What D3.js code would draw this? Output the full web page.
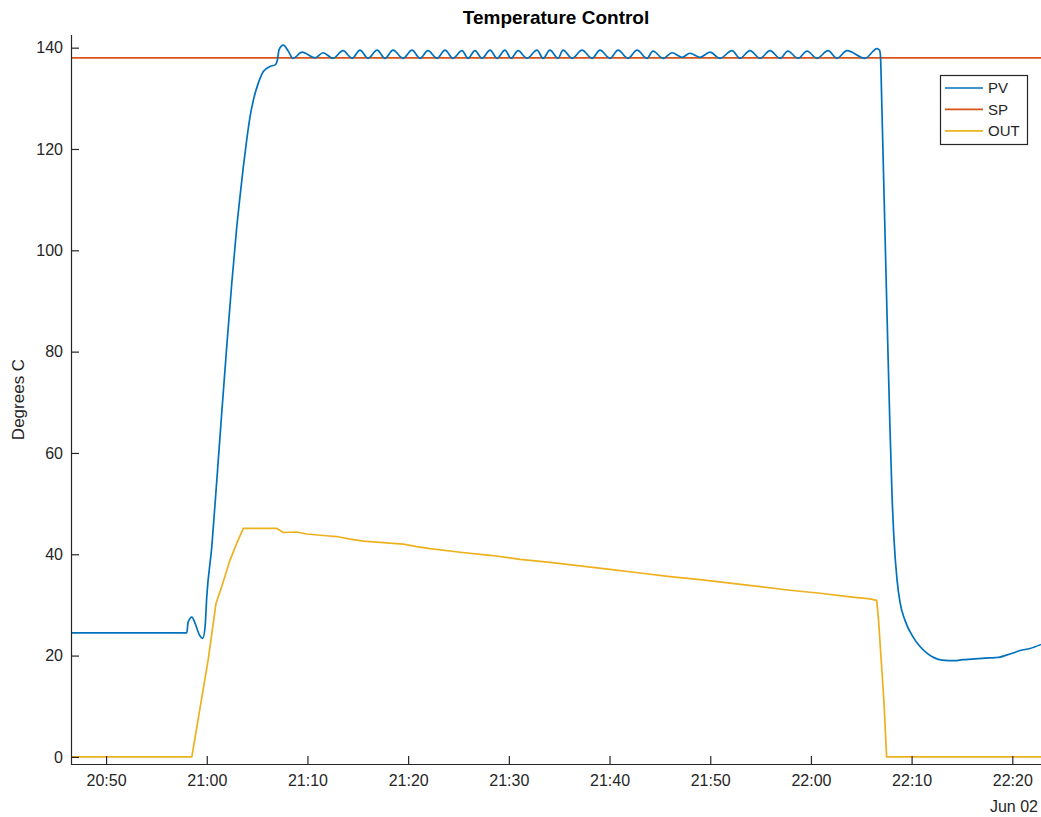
<!DOCTYPE html>
<html>
<head>
<meta charset="utf-8">
<script src="https://cdn.jsdelivr.net/npm/d3@7"></script>
<style>
  html, body { margin: 0; padding: 0; background: #ffffff; }
  svg { display: block; font-family: "Liberation Sans", Arial, Helvetica, sans-serif; }
</style>
</head>
<body>
<svg id="chart" width="1041" height="817"></svg>
<script>
// Process variable (temperature) samples, Jun 02
const pvSeries = [
  ["20:46:31", 24.5], ["20:58:01", 24.5], ["20:58:09", 26.6], ["20:58:31", 27.6],
  ["20:58:50", 26.4], ["20:59:16", 24.1], ["20:59:36", 23.4], ["20:59:50", 25.7],
  ["21:00:00", 31.6], ["21:00:30", 41.5], ["21:01:00", 54.7], ["21:01:29", 67.8],
  ["21:01:59", 81.0], ["21:02:29", 93.5], ["21:02:59", 104.7], ["21:03:18", 110.6],
  ["21:03:38", 116.5], ["21:03:58", 121.8], ["21:04:18", 126.4], ["21:04:38", 129.7],
  ["21:05:07", 133.0], ["21:05:37", 135.3], ["21:06:17", 136.3], ["21:06:47", 136.6],
  ["21:07:01", 137.6], ["21:07:11", 139.6], ["21:07:36", 140.5], ["21:08:06", 139.3],
  ["21:08:34", 137.9], ["21:09:28", 139.1], ["21:10:45", 138.0], ["21:11:33", 139.0],
  ["21:12:32", 137.9], ["21:13:32", 139.4], ["21:14:26", 137.9], ["21:15:13", 139.5],
  ["21:16:01", 137.9], ["21:16:55", 139.5], ["21:17:42", 137.9], ["21:18:30", 139.5],
  ["21:19:30", 137.9], ["21:20:23", 139.5], ["21:21:11", 137.9], ["21:21:58", 139.4],
  ["21:22:52", 137.9], ["21:23:40", 139.5], ["21:24:27", 137.9], ["21:25:21", 139.4],
  ["21:25:57", 137.9], ["21:26:38", 139.4], ["21:27:20", 137.9], ["21:28:08", 139.5],
  ["21:28:50", 137.9], ["21:29:37", 139.5], ["21:30:13", 137.9], ["21:30:55", 139.4],
  ["21:31:48", 137.9], ["21:32:48", 139.5], ["21:33:24", 137.9], ["21:34:05", 139.5],
  ["21:34:53", 137.9], ["21:35:23", 139.5], ["21:36:17", 137.9], ["21:37:16", 139.5],
  ["21:38:16", 137.9], ["21:39:03", 139.5], ["21:40:03", 137.9], ["21:40:51", 139.5],
  ["21:41:50", 137.9], ["21:42:44", 139.5], ["21:43:43", 137.9], ["21:44:19", 139.3],
  ["21:45:19", 137.9], ["21:46:12", 139.0], ["21:47:12", 138.1], ["21:47:59", 138.9],
  ["21:48:59", 138.1], ["21:49:59", 139.1], ["21:50:58", 137.9], ["21:52:10", 139.4],
  ["21:52:57", 137.9], ["21:53:57", 139.4], ["21:54:57", 137.9], ["21:55:56", 139.4],
  ["21:56:56", 137.9], ["21:57:43", 139.3], ["21:58:43", 137.9], ["21:59:37", 139.3],
  ["22:00:36", 137.9], ["22:01:42", 139.4], ["22:02:35", 137.9], ["22:03:35", 139.4],
  ["22:05:22", 137.9], ["22:06:34", 139.8], ["22:06:49", 139.5], ["22:06:54", 138.5],
  ["22:07:03", 128.0], ["22:07:15", 112.0], ["22:07:27", 96.0], ["22:07:39", 80.0],
  ["22:07:51", 65.0], ["22:08:03", 52.0], ["22:08:15", 43.0], ["22:08:33", 35.0],
  ["22:08:51", 30.5], ["22:09:20", 27.0], ["22:10:08", 23.7], ["22:10:50", 21.8],
  ["22:11:31", 20.5], ["22:12:13", 19.6], ["22:13:01", 19.1], ["22:14:18", 19.0],
  ["22:15:06", 19.2], ["22:16:00", 19.3], ["22:17:17", 19.5], ["22:18:17", 19.6],
  ["22:18:46", 19.7], ["22:19:16", 20.0], ["22:20:04", 20.5], ["22:20:46", 21.0],
  ["22:21:45", 21.4], ["22:22:51", 22.2]
];

// Setpoint
const spSeries = [["20:46:31", 138], ["22:22:51", 138]];

// Controller output
const outSeries = [
  ["20:46:31", 0], ["20:58:31", 0], ["21:00:10", 19.5], ["21:00:55", 30.3],
  ["21:01:29", 33.6], ["21:02:19", 38.9], ["21:02:59", 42.2], ["21:03:38", 45.1],
  ["21:06:57", 45.1], ["21:07:27", 44.5], ["21:07:36", 44.3], ["21:08:56", 44.4],
  ["21:09:56", 44.0], ["21:11:35", 43.7], ["21:12:55", 43.5], ["21:14:14", 43.0],
  ["21:15:33", 42.6], ["21:17:32", 42.3], ["21:19:31", 42.0], ["21:20:51", 41.5],
  ["21:22:10", 41.1], ["21:25:10", 40.4], ["21:28:08", 39.8], ["21:31:07", 39.0],
  ["21:34:05", 38.4], ["21:37:04", 37.7], ["21:40:03", 37.0], ["21:43:02", 36.3],
  ["21:46:00", 35.6], ["21:48:59", 35.0], ["21:51:58", 34.3], ["21:54:57", 33.6],
  ["21:57:55", 32.9], ["22:00:54", 32.3], ["22:03:53", 31.6], ["22:05:52", 31.2],
  ["22:06:32", 30.9], ["22:06:43", 27.0], ["22:06:57", 20.0], ["22:07:15", 11.0],
  ["22:07:31", 0], ["22:22:51", 0]
];

const seriesNames = ["PV", "SP", "OUT"];
const seriesColors = ["#0072BD", "#D95319", "#EDB120"];
const yTicks = [0, 20, 40, 60, 80, 100, 120, 140];
const xTickTimes = ["20:50", "21:00", "21:10", "21:20", "21:30", "21:40", "21:50", "22:00", "22:10", "22:20"];
const timeRange = ["20:46:31", "22:22:51"];
const yRange = [-1.4, 142.5];
const dayLabel = "Jun 02";

const parseSec = d3.timeParse("%Y-%m-%d %H:%M:%S");
const parseMin = d3.timeParse("%Y-%m-%d %H:%M");
const day = "2023-06-02 ";
const toPoints = s => s.map(([t, v]) => ({ t: parseSec(day + t), v }));

const svg = d3.select("#chart");
const plot = { left: 71, right: 1041, top: 35, bottom: 764 };
const ink = "#262626";

const x = d3.scaleTime()
  .domain(timeRange.map(t => parseSec(day + t)))
  .range([plot.left, plot.right]);
const y = d3.scaleLinear().domain(yRange).range([plot.bottom, plot.top]);

// series lines
const line = d3.line().x(d => x(d.t)).y(d => y(d.v));
const series = [
  { pts: toPoints(pvSeries), curve: d3.curveMonotoneX },
  { pts: toPoints(spSeries), curve: d3.curveLinear },
  { pts: toPoints(outSeries), curve: d3.curveLinear }
];
svg.append("clipPath").attr("id", "plot-clip").append("rect")
  .attr("x", plot.left).attr("y", plot.top)
  .attr("width", plot.right - plot.left).attr("height", plot.bottom - plot.top);

const lines = svg.append("g").attr("clip-path", "url(#plot-clip)");
// draw OUT first, then SP, then PV on top
[2, 1, 0].forEach(i => {
  lines.append("path")
    .datum(series[i].pts)
    .attr("fill", "none")
    .attr("stroke", seriesColors[i])
    .attr("stroke-width", 1.7)
    .attr("stroke-linejoin", "round")
    .attr("d", line.curve(series[i].curve));
});

// axes with inward ticks
const fmt = d3.timeFormat("%H:%M");
const xAxis = d3.axisBottom(x)
  .tickValues(xTickTimes.map(t => parseMin(day + t)))
  .tickFormat(fmt)
  .tickSize(-8).tickPadding(11);
const yAxis = d3.axisLeft(y)
  .tickValues(yTicks)
  .tickSize(-8).tickPadding(8);

const gx = svg.append("g").attr("transform", `translate(0,${plot.bottom})`).call(xAxis);
const gy = svg.append("g").attr("transform", `translate(${plot.left},0)`).call(yAxis);
[gx, gy].forEach(g => {
  g.select(".domain").attr("stroke", ink).attr("stroke-width", 1.2);
  g.selectAll(".tick line").attr("stroke", ink).attr("stroke-width", 1.2);
  g.selectAll(".tick text").attr("fill", ink).attr("font-size", 16)
    .attr("font-family", "'Liberation Sans', Arial, sans-serif");
});
gx.select(".domain").attr("d", `M${plot.left},0.5H${plot.right}`);
gy.select(".domain").attr("d", `M0.5,${plot.bottom}V${plot.top}`);

// secondary date label
svg.append("text")
  .attr("x", 1038).attr("y", 812)
  .attr("text-anchor", "end")
  .attr("fill", ink).attr("font-size", 16)
  .text(dayLabel);

// y label
svg.append("text")
  .attr("transform", `translate(24,${(plot.top + plot.bottom) / 2}) rotate(-90)`)
  .attr("text-anchor", "middle")
  .attr("fill", ink).attr("font-size", 17)
  .text("Degrees C");

// title
svg.append("text")
  .attr("x", (plot.left + plot.right) / 2).attr("y", 24)
  .attr("text-anchor", "middle")
  .attr("fill", "#000").attr("font-size", 19).attr("font-weight", "bold")
  .text("Temperature Control");

// legend
const lg = svg.append("g").attr("transform", "translate(940,75)");
lg.append("rect")
  .attr("x", 0.5).attr("y", 0.5).attr("width", 87).attr("height", 69)
  .attr("fill", "#fff").attr("stroke", ink).attr("stroke-width", 1.2);
seriesNames.forEach((name, i) => {
  const cy = 13 + i * 21.4;
  lg.append("line")
    .attr("x1", 5).attr("x2", 43).attr("y1", cy).attr("y2", cy)
    .attr("stroke", seriesColors[i]).attr("stroke-width", 1.7);
  lg.append("text")
    .attr("x", 48).attr("y", cy).attr("dy", "0.36em")
    .attr("fill", ink).attr("font-size", 15)
    .text(name);
});
</script>
</body>
</html>
